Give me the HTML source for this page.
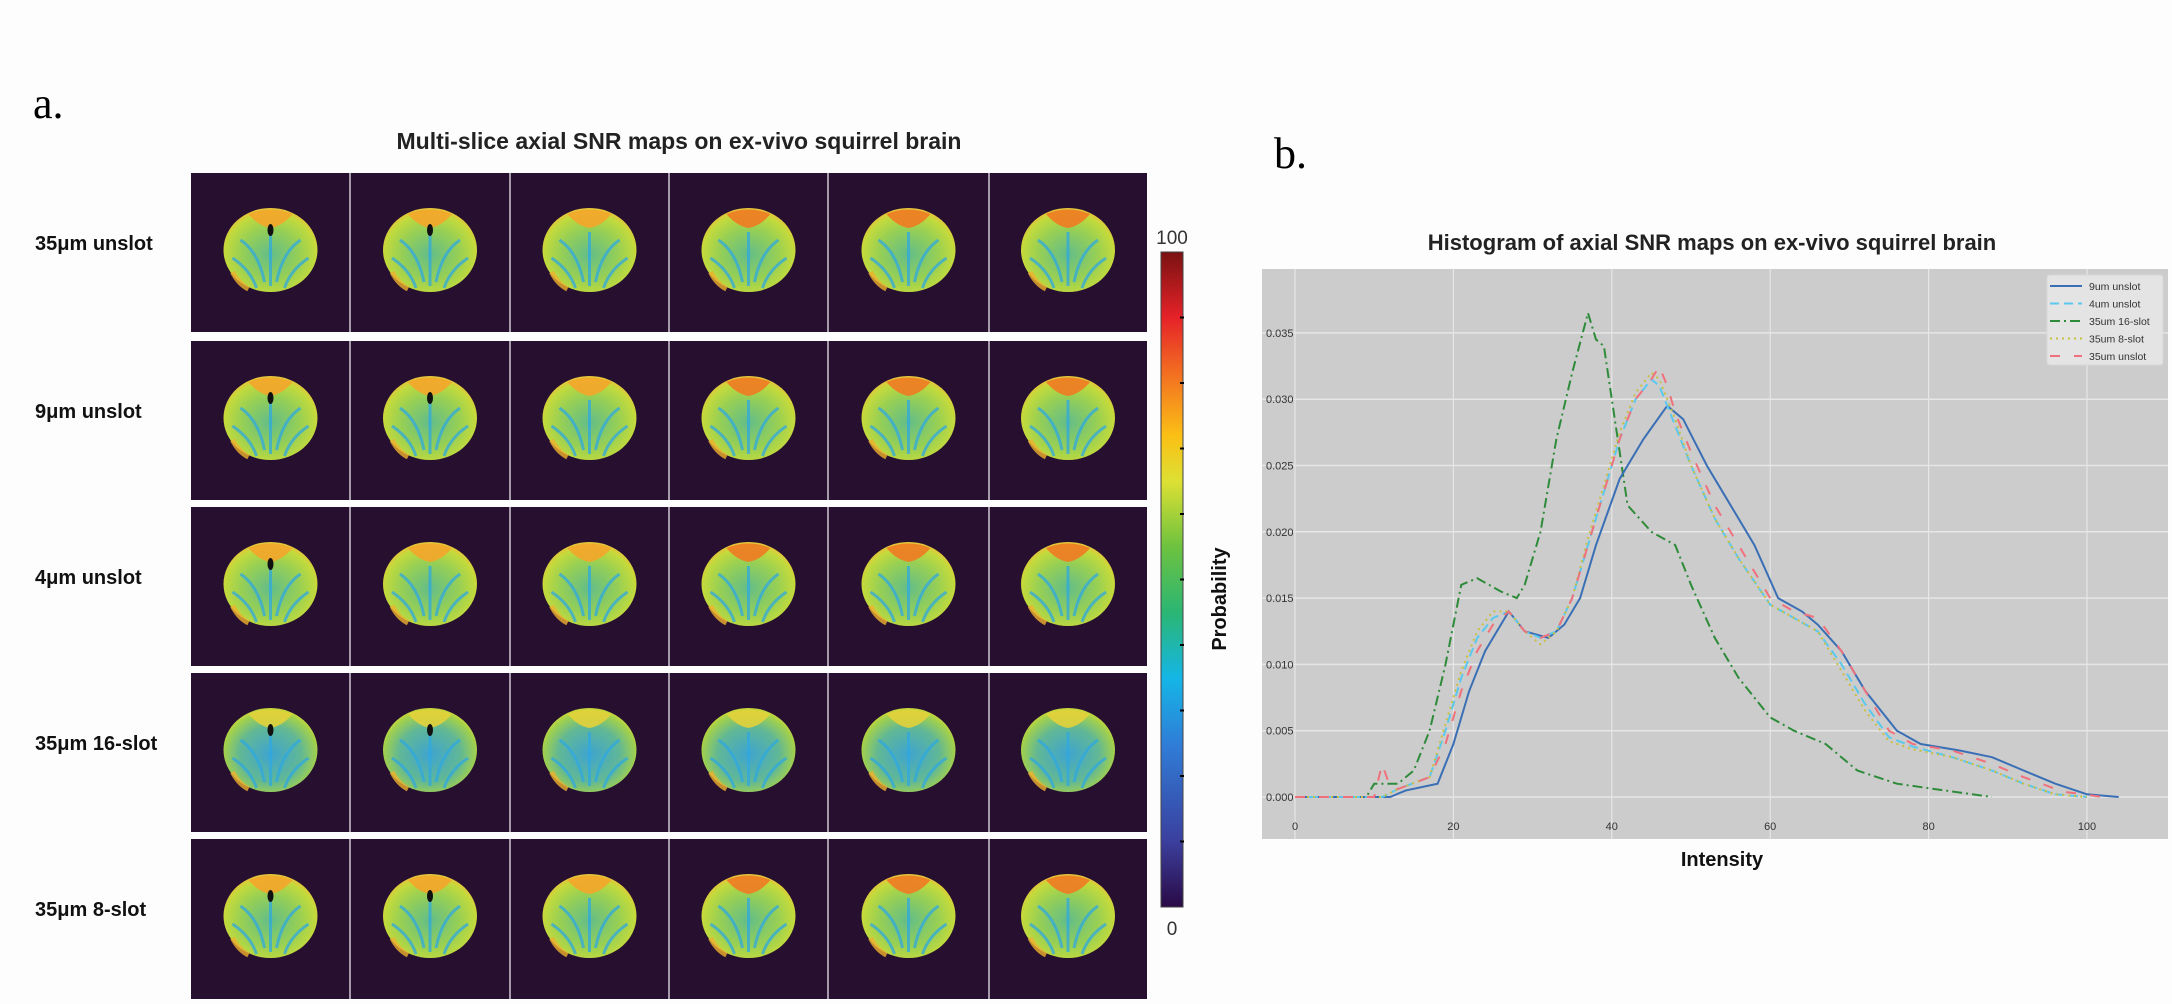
<!DOCTYPE html>
<html><head><meta charset="utf-8">
<style>
html,body{margin:0;padding:0;background:#fdfdfd;}
body{width:2172px;height:999px;position:relative;overflow:hidden;font-family:"Liberation Sans",sans-serif;}
</style></head>
<body>
<svg id="fig" width="2172" height="999" xmlns="http://www.w3.org/2000/svg">
<defs>
<linearGradient id="cbar" x1="0" y1="1" x2="0" y2="0">
<stop offset="0" stop-color="#2a0a45"/><stop offset="0.1" stop-color="#3b3f9e"/><stop offset="0.25" stop-color="#2f7ed8"/>
<stop offset="0.35" stop-color="#14b6e6"/><stop offset="0.45" stop-color="#2bb673"/><stop offset="0.55" stop-color="#6dc23f"/>
<stop offset="0.65" stop-color="#dde033"/><stop offset="0.72" stop-color="#fbbf15"/><stop offset="0.82" stop-color="#f26a22"/>
<stop offset="0.9" stop-color="#e52228"/><stop offset="1" stop-color="#7a1212"/></linearGradient>
<radialGradient id="brainA" cx="0.5" cy="0.55" r="0.55">
<stop offset="0" stop-color="#62bd8a"/><stop offset="0.55" stop-color="#96cf55"/><stop offset="0.88" stop-color="#c2da3c"/><stop offset="1" stop-color="#e8c43a"/></radialGradient>
<radialGradient id="brainB" cx="0.5" cy="0.55" r="0.55">
<stop offset="0" stop-color="#3ea4d0"/><stop offset="0.6" stop-color="#62b894"/><stop offset="0.9" stop-color="#a2d04c"/><stop offset="1" stop-color="#c9d83a"/></radialGradient>
</defs>
<rect width="2172" height="999" fill="#fdfdfd"/>
<text x="33" y="118" font-family="Liberation Serif,serif" font-size="44" fill="#000">a.</text>
<text x="679" y="149" text-anchor="middle" font-size="23" font-weight="bold" fill="#222">Multi-slice axial SNR maps on ex-vivo squirrel brain</text>
<g id="grid"></g>
<rect x="1161" y="252" width="22" height="655" fill="url(#cbar)" stroke="#444" stroke-width="1"/>
<g id="cticks"></g>
<text x="1172" y="244" text-anchor="middle" font-size="19" fill="#333">100</text>
<text x="1172" y="935" text-anchor="middle" font-size="19" fill="#333">0</text>
<text x="1274" y="168" font-family="Liberation Serif,serif" font-size="44" fill="#000">b.</text>
<text x="1712" y="250" text-anchor="middle" font-size="22" font-weight="bold" fill="#222">Histogram of axial SNR maps on ex-vivo squirrel brain</text>
<rect x="1262" y="269" width="906" height="570" fill="#cccccc"/>
<g id="axes"></g>
<g id="series"></g>
<text transform="translate(1226,599) rotate(-90)" text-anchor="middle" font-size="20" font-weight="bold" fill="#111">Probability</text>
<text x="1722" y="866" text-anchor="middle" font-size="20" font-weight="bold" fill="#111">Intensity</text>
<g id="legend"></g>
</svg>
<script>
const NS='http://www.w3.org/2000/svg';
function mk(tag,attrs,parent){const e=document.createElementNS(NS,tag);for(const k in attrs)e.setAttribute(k,attrs[k]);parent.appendChild(e);return e;}
// ---------- Left grid ----------
const rowLabels=['35μm unslot','9μm unslot','4μm unslot','35μm 16-slot','35μm 8-slot'];
const rowTops=[173,341,507,673,839];
const colX=[191,350,510,669,828,989,1147];
const grid=document.getElementById('grid');
rowLabels.forEach((lab,r)=>{
  const y0=rowTops[r],h=(r===4?160:159);
  const bg=mk('rect',{x:191,y:y0,width:956,height:h,fill:'#27102f'},grid);
  
  
  const t=mk('text',{x:35,y:y0+77,'font-size':20,'font-weight':'bold',fill:'#111','font-family':'Liberation Sans,sans-serif'},grid);
  t.textContent=lab;
  
  
  for(let c=0;c<6;c++){
    const cx=(colX[c]+colX[c+1])/2, cy=y0+77;
    const g=mk('g',{},grid);
    
    
    mk('ellipse',{cx:cx,cy:cy,rx:47,ry:42,fill:r===3?'url(#brainB)':'url(#brainA)'},g);
    const hot=r===3?'#e3d23a':(c>=3?'#f07a22':'#f4a52a');
    mk('path',{d:`M${cx-22} ${cy-36} Q${cx} ${cy-45} ${cx+22} ${cy-36} Q${cx+12} ${cy-24} ${cx} ${cy-22} Q${cx-12} ${cy-24} ${cx-22} ${cy-36}Z`,fill:hot,opacity:0.9},g);
    mk('path',{d:`M${cx-30} ${cy-10} Q${cx-12} ${cy+2} ${cx-6} ${cy+32} M${cx+30} ${cy-10} Q${cx+12} ${cy+2} ${cx+6} ${cy+32} M${cx-38} ${cy+8} Q${cx-20} ${cy+20} ${cx-14} ${cy+38} M${cx+38} ${cy+8} Q${cx+20} ${cy+20} ${cx+14} ${cy+38} M${cx} ${cy-18} L${cx} ${cy+36}`,stroke:'#2fa8e0',fill:'none','stroke-width':3,opacity:0.75},g);
    mk('path',{d:`M${cx-38} ${cy+22} Q${cx-32} ${cy+34} ${cx-22} ${cy+39}`,stroke:'#f0b030',fill:'none','stroke-width':5,opacity:0.8},g);
    if(c<2&&r!==2||(r===2&&c===0)){mk('ellipse',{cx:cx,cy:cy-20,rx:3,ry:6,fill:'#111'},g);}
  }
  for(let c=1;c<6;c++){mk('line',{x1:colX[c],y1:y0,x2:colX[c],y2:y0+h,stroke:'#cfc8d4','stroke-width':1.5},grid);}
});
const ct=document.getElementById('cticks');
for(let i=1;i<10;i++){const y=907-655*i/10;mk('line',{x1:1180,y1:y,x2:1184,y2:y,stroke:'#000','stroke-width':2},ct);}
// ---------- Histogram ----------
const xTicks=[0,20,40,60,80,100];
const yTicks=[0,0.005,0.010,0.015,0.020,0.025,0.030,0.035];
const yTickLabels=['0.000','0.005','0.010','0.015','0.020','0.025','0.030','0.035'];
const xs9=[0,12,14,18,20,22,24,26,27,29,32,34,36,38,41,44,47,49,52,55,58,61,64,66,69,72,76,79,84,88,92,96,100,104];
const ys9=[0,0,0.0005,0.001,0.004,0.008,0.011,0.013,0.014,0.0125,0.012,0.013,0.015,0.019,0.024,0.027,0.0295,0.0285,0.025,0.022,0.019,0.015,0.014,0.013,0.011,0.008,0.005,0.004,0.0035,0.003,0.002,0.001,0.0002,0];
const xs4=[0,11,13,17,19,21,23,25,27,29,31,33,35,37,39,41,43,45,46,48,50,53,56,60,63,66,69,72,75,78,83,88,92,96,100];
const ys4=[0,0,0.0006,0.0015,0.005,0.009,0.012,0.0135,0.014,0.0125,0.012,0.0125,0.015,0.019,0.023,0.027,0.030,0.0315,0.031,0.028,0.025,0.021,0.018,0.0145,0.0135,0.0125,0.010,0.007,0.0045,0.0038,0.003,0.002,0.001,0.0002,0];
const xs16=[0,9,10,13,15,17,19,21,23,26,28,29,31,33,35,37,38,39,40,41,42,45,48,50,53,56,60,63,67,71,76,82,88];
const ys16=[0,0,0.001,0.001,0.002,0.005,0.010,0.016,0.0165,0.0155,0.015,0.016,0.020,0.027,0.032,0.0365,0.0345,0.034,0.030,0.026,0.022,0.020,0.019,0.016,0.012,0.009,0.006,0.005,0.004,0.002,0.001,0.0005,0];
const xs8=[0,11,13,17,19,21,23,25,27,29,31,33,35,37,39,41,43,45,46,48,50,53,56,60,63,66,69,72,75,78,83,88,92,96,100];
const ys8=[0,0,0.0006,0.0015,0.0055,0.0095,0.0125,0.014,0.014,0.0125,0.0115,0.0125,0.015,0.0195,0.0235,0.0275,0.0305,0.032,0.0315,0.0285,0.025,0.021,0.018,0.0145,0.0135,0.0125,0.0095,0.0065,0.0042,0.0036,0.003,0.002,0.001,0.0002,0];
const xs35=[0,10,11,12,13,17,19,21,23,25,27,29,31,33,35,37,39,41,43,45,46,47,48,50,53,56,60,63,66,69,72,75,78,83,88,92,97,102];
const ys35=[0,0,0.0025,0.0008,0.0006,0.0015,0.004,0.008,0.011,0.013,0.014,0.0125,0.012,0.0125,0.015,0.019,0.023,0.027,0.030,0.0315,0.0325,0.031,0.029,0.026,0.022,0.019,0.015,0.014,0.0135,0.011,0.008,0.005,0.004,0.0035,0.0025,0.0015,0.0004,0];
const seriesNames=['9um unslot','4um unslot','35um 16-slot','35um 8-slot','35um unslot'];
const seriesX=[xs9,xs4,xs16,xs8,xs35];
const seriesY=[ys9,ys4,ys16,ys8,ys35];
const colors=['#3a6fb5','#5bc8ee','#2e8b3a','#c8c040','#f0707c'];
const dashes=['','9,5','10,4,2,4','2,4','10,14'];
const X=v=>1295+v*7.92, Y=v=>797-v*13260;
const axes=document.getElementById('axes');
xTicks.forEach(t=>{
  mk('line',{x1:X(t),y1:269,x2:X(t),y2:839,stroke:'#e6e6e6','stroke-width':1.2},axes);
  const tx=mk('text',{x:X(t),y:830,'text-anchor':'middle','font-size':11,fill:'#333'},axes);
  tx.textContent=t;
  
  
});
yTicks.forEach((t,i)=>{
  mk('line',{x1:1262,y1:Y(t),x2:2168,y2:Y(t),stroke:'#e6e6e6','stroke-width':1.5},axes);
  const tx=mk('text',{x:1266,y:Y(t)+4,'font-size':11,fill:'#333'},axes);
  tx.textContent=yTickLabels[i];
  
  
});
const ser=document.getElementById('series');
const order=[2,0,1,3,4];
order.forEach(i=>{
  const pts=seriesX[i].map((x,k)=>X(x).toFixed(1)+','+Y(seriesY[i][k]).toFixed(1)).join(' ');
  const p=mk('polyline',{points:pts,fill:'none',stroke:colors[i],'stroke-width':2,'stroke-dasharray':dashes[i]},ser);
  
  
});
const leg=document.getElementById('legend');
mk('rect',{x:2047,y:275,width:116,height:90,rx:3,fill:'#e4e4e4',stroke:'#d8d8d8'},leg);
seriesNames.forEach((n,i)=>{
  const y=286+i*17.5;
  mk('line',{x1:2050,y1:y,x2:2082,y2:y,stroke:colors[i],'stroke-width':2,'stroke-dasharray':dashes[i]},leg);
  const t=mk('text',{x:2089,y:y+4,'font-size':10.5,fill:'#333'},leg);
  t.textContent=n;
  
  
});
</script>
</body></html>
